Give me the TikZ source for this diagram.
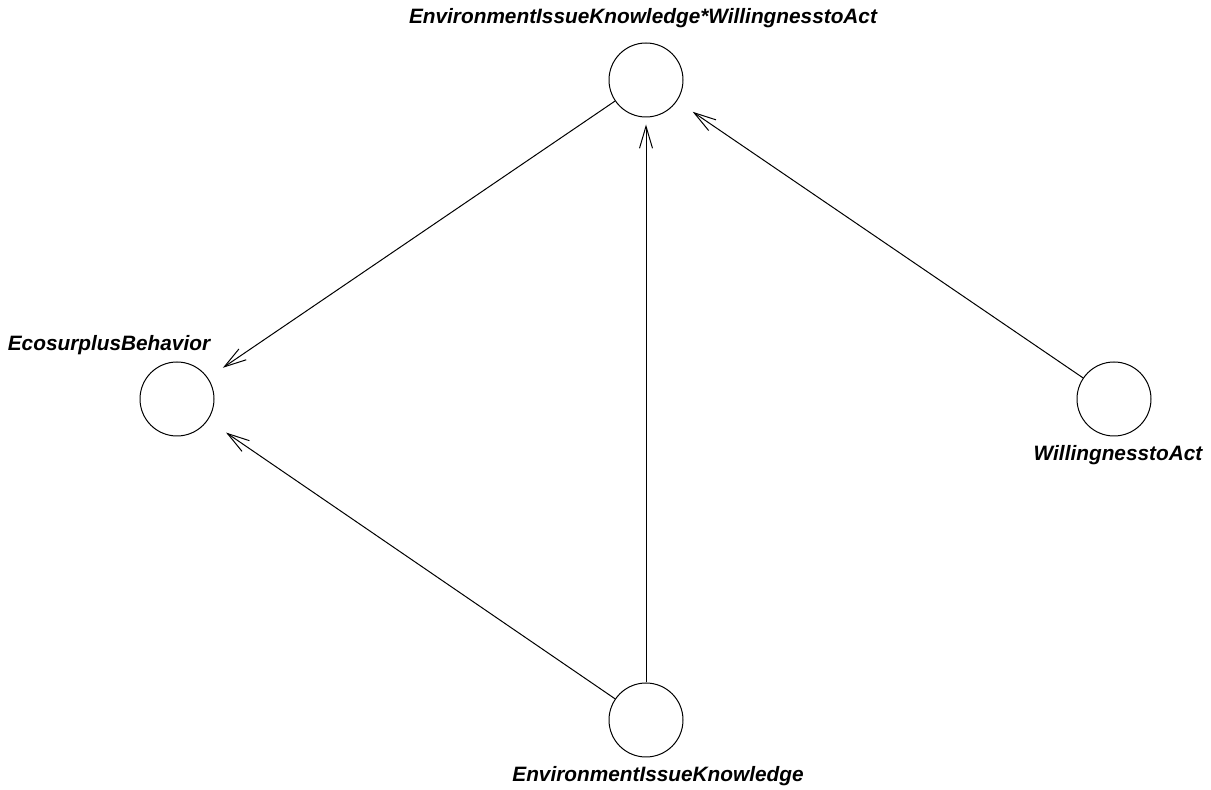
\documentclass[tikz,border=0pt]{standalone}
\usepackage{fontspec}
\setmainfont{Liberation Sans}
\usetikzlibrary{arrows.meta}

\begin{document}
\begin{tikzpicture}[x=0.5pt,y=-0.5pt]
            \useasboundingbox (0,0) rectangle (1211,790);
            \begin{scope}[every node/.style={circle,draw,line width=0.5pt,minimum size=37pt,inner sep=0pt}]
                \node (inter) at (646,80) {};
                \node (eco) at (177,399) {};
                \node (wta) at (1114,399) {};
                \node (eik) at (646,720) {};
            \end{scope}

            \begin{scope}[every node/.style={font=\fontsize{10.4}{12}\selectfont\bfseries\itshape,inner sep=0pt}]
                \node (intertext) at (643,18) {EnvironmentIssueKnowledge*WillingnesstoAct};
                \node (ecotext) at (109,345) {EcosurplusBehavior};
                \node (wtatext) at (1118,455) {WillingnesstoAct};
                \node (eiktext) at (658,776) {EnvironmentIssueKnowledge};
            \end{scope}

            \begin{scope}[line width=0.5pt,-{Straight Barb[length=11pt,width=6.5pt]}]
                \path (inter) edge [shorten >=9pt] (eco);
                \path (eik) edge [shorten >=11pt] (eco);
                \path (eik) edge [shorten >=3.5pt] (inter);
                \path (wta) edge [shorten >=9.5pt] (inter);
            \end{scope}
\end{tikzpicture}
\end{document}
